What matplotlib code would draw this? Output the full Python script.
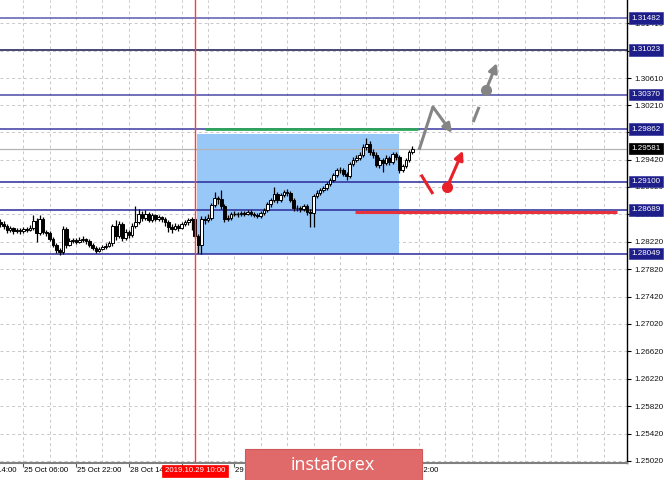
import matplotlib
matplotlib.use("Agg")
import matplotlib.pyplot as plt
import matplotlib.transforms as mtransforms
from matplotlib.patches import Rectangle, FancyArrowPatch

plt.rcParams['font.family'] = ['Liberation Sans', 'DejaVu Sans']

# ---------------- data ----------------
bar_index = list(range(-7, 119))   # H1 bars, 0 = 25 Oct 06:00

open_ = [1.2851, 1.2848, 1.2845, 1.2839, 1.2842, 1.2838, 1.2839, 1.2838, 1.2841, 1.2839,
         1.2842, 1.2852, 1.2835, 1.2855, 1.2836, 1.2835, 1.2826, 1.2817, 1.2810, 1.2807,
         1.2841, 1.2817, 1.2823, 1.2825, 1.2822, 1.2825, 1.2826, 1.2823, 1.2817, 1.2813,
         1.2809, 1.2811, 1.2814, 1.2816, 1.2820, 1.2845, 1.2830, 1.2848, 1.2828, 1.2836,
         1.2832, 1.2845, 1.2851, 1.2863, 1.2857, 1.2863, 1.2854, 1.2861, 1.2855, 1.2858,
         1.2855, 1.2851, 1.2844, 1.2841, 1.2845, 1.2842, 1.2848, 1.2851, 1.2854, 1.2855,
         1.2830, 1.2817, 1.2855, 1.2854, 1.2857, 1.2876, 1.2886, 1.2884, 1.2874, 1.2855,
         1.2857, 1.2863, 1.2863, 1.2863, 1.2864, 1.2863, 1.2865, 1.2863, 1.2861, 1.2860,
         1.2864, 1.2868, 1.2877, 1.2883, 1.2892, 1.2883, 1.2890, 1.2895, 1.2893, 1.2883,
         1.2871, 1.2871, 1.2870, 1.2874, 1.2865, 1.2864, 1.2889, 1.2893, 1.2898, 1.2901,
         1.2906, 1.2912, 1.2920, 1.2927, 1.2927, 1.2921, 1.2918, 1.2936, 1.2941, 1.2944,
         1.2949, 1.2960, 1.2965, 1.2953, 1.2949, 1.2934, 1.2941, 1.2937, 1.2944, 1.2938,
         1.2950, 1.2946, 1.2927, 1.2933, 1.2941, 1.2953]

high = [1.2855, 1.2852, 1.2848, 1.2845, 1.2844, 1.2842, 1.2842, 1.2844, 1.2844, 1.2846,
        1.2861, 1.2857, 1.2861, 1.2858, 1.2839, 1.2838, 1.2829, 1.2820, 1.2813, 1.2845,
        1.2844, 1.2828, 1.2828, 1.2828, 1.2829, 1.2830, 1.2828, 1.2826, 1.2820, 1.2816,
        1.2814, 1.2817, 1.2820, 1.2823, 1.2848, 1.2854, 1.2852, 1.2851, 1.2841, 1.2839,
        1.2849, 1.2874, 1.2870, 1.2867, 1.2868, 1.2865, 1.2864, 1.2863, 1.2861, 1.2860,
        1.2858, 1.2854, 1.2848, 1.2849, 1.2848, 1.2851, 1.2854, 1.2857, 1.2858, 1.2857,
        1.2833, 1.2860, 1.2860, 1.2863, 1.2879, 1.2895, 1.2889, 1.2898, 1.2877, 1.2861,
        1.2865, 1.2867, 1.2865, 1.2867, 1.2867, 1.2868, 1.2868, 1.2865, 1.2864, 1.2867,
        1.2871, 1.2880, 1.2886, 1.2902, 1.2895, 1.2893, 1.2898, 1.2899, 1.2896, 1.2886,
        1.2876, 1.2874, 1.2877, 1.2877, 1.2870, 1.2892, 1.2898, 1.2901, 1.2903, 1.2909,
        1.2915, 1.2922, 1.2930, 1.2931, 1.2930, 1.2924, 1.2938, 1.2946, 1.2949, 1.2953,
        1.2965, 1.2974, 1.2969, 1.2957, 1.2953, 1.2946, 1.2944, 1.2949, 1.2947, 1.2953,
        1.2953, 1.2949, 1.2936, 1.2944, 1.2956, 1.2962]

low = [1.2844, 1.2841, 1.2835, 1.2836, 1.2833, 1.2835, 1.2833, 1.2835, 1.2836, 1.2838,
       1.2839, 1.2822, 1.2832, 1.2833, 1.2830, 1.2823, 1.2814, 1.2806, 1.2803, 1.2804,
       1.2813, 1.2816, 1.2820, 1.2819, 1.2820, 1.2822, 1.2819, 1.2814, 1.2810, 1.2806,
       1.2807, 1.2810, 1.2811, 1.2814, 1.2816, 1.2825, 1.2828, 1.2823, 1.2825, 1.2828,
       1.2829, 1.2842, 1.2848, 1.2852, 1.2854, 1.2851, 1.2851, 1.2852, 1.2852, 1.2851,
       1.2845, 1.2836, 1.2835, 1.2839, 1.2838, 1.2841, 1.2845, 1.2846, 1.2839, 1.2828,
       1.2806, 1.2804, 1.2848, 1.2851, 1.2854, 1.2873, 1.2877, 1.2870, 1.2851, 1.2852,
       1.2854, 1.2860, 1.2858, 1.2860, 1.2860, 1.2861, 1.2860, 1.2858, 1.2857, 1.2857,
       1.2861, 1.2865, 1.2873, 1.2880, 1.2879, 1.2880, 1.2887, 1.2889, 1.2880, 1.2867,
       1.2867, 1.2865, 1.2867, 1.2861, 1.2844, 1.2844, 1.2886, 1.2890, 1.2895, 1.2898,
       1.2903, 1.2909, 1.2917, 1.2922, 1.2918, 1.2912, 1.2915, 1.2933, 1.2938, 1.2941,
       1.2946, 1.2956, 1.2949, 1.2944, 1.2931, 1.2930, 1.2924, 1.2934, 1.2934, 1.2936,
       1.2941, 1.2922, 1.2924, 1.2930, 1.2938, 1.2950]

close = [1.2848, 1.2845, 1.2839, 1.2842, 1.2838, 1.2839, 1.2838, 1.2841, 1.2839, 1.2842,
         1.2852, 1.2835, 1.2855, 1.2836, 1.2835, 1.2826, 1.2817, 1.2810, 1.2807, 1.2841,
         1.2817, 1.2823, 1.2825, 1.2822, 1.2825, 1.2826, 1.2823, 1.2817, 1.2813, 1.2809,
         1.2811, 1.2814, 1.2816, 1.2820, 1.2845, 1.2830, 1.2848, 1.2828, 1.2836, 1.2832,
         1.2845, 1.2851, 1.2863, 1.2857, 1.2863, 1.2854, 1.2861, 1.2855, 1.2858, 1.2855,
         1.2851, 1.2844, 1.2841, 1.2845, 1.2842, 1.2848, 1.2851, 1.2854, 1.2855, 1.2830,
         1.2817, 1.2855, 1.2854, 1.2857, 1.2876, 1.2886, 1.2884, 1.2874, 1.2855, 1.2857,
         1.2863, 1.2863, 1.2863, 1.2864, 1.2863, 1.2865, 1.2863, 1.2861, 1.2860, 1.2864,
         1.2868, 1.2877, 1.2883, 1.2892, 1.2883, 1.2890, 1.2895, 1.2893, 1.2883, 1.2871,
         1.2871, 1.2870, 1.2874, 1.2865, 1.2864, 1.2889, 1.2893, 1.2898, 1.2901, 1.2906,
         1.2912, 1.2920, 1.2927, 1.2927, 1.2921, 1.2918, 1.2936, 1.2941, 1.2944, 1.2949,
         1.2960, 1.2965, 1.2953, 1.2949, 1.2934, 1.2941, 1.2937, 1.2944, 1.2938, 1.2950,
         1.2946, 1.2927, 1.2933, 1.2941, 1.2953, 1.29581]

level_prices = [1.31482, 1.31023, 1.30370, 1.29862, 1.29100, 1.28689, 1.28049]
level_labels = ["1.31482", "1.31023", "1.30370", "1.29862", "1.29100", "1.28689", "1.28049"]
level_colors = ['#5a5ab0', '#151550', '#4a4aaa', '#3a3aa0', '#2a2a9a', '#2a2a9a', '#2a2a9a']
current_price = 1.29581
current_label = "1.29581"

y_ticks = [1.31410, 1.31010, 1.30610, 1.30210, 1.29820, 1.29420, 1.29020, 1.28620,
           1.28220, 1.27820, 1.27420, 1.27020, 1.26620, 1.26220, 1.25820, 1.25420, 1.25020]
y_tick_labels = ["1.31410", "1.31010", "1.30610", "1.30210", "1.29820", "1.29420", "1.29020",
                 "1.28620", "1.28220", "1.27820", "1.27420", "1.27020", "1.26620", "1.26220",
                 "1.25820", "1.25420", "1.25020"]

x_tick_pos = [-16, 0, 16, 32, 48, 64, 80, 96, 112]
x_tick_labels = ["24 Oct 14:00", "25 Oct 06:00", "25 Oct 22:00", "28 Oct 14:00",
                 "29 Oct 06:00", "29 Oct 22:00", "30 Oct 14:00", "31 Oct 06:00", "31 Oct 22:00"]
marker_bar = 52
marker_label = "2019.10.29 10:00"

# ---------------- figure ----------------
fig = plt.figure(figsize=(6.65, 4.8), dpi=100)
fig.patch.set_facecolor('white')
ax = fig.add_axes([0, 17 / 480, 627 / 665, 463 / 480])
ax.set_facecolor('white')

for s in ['top', 'left']:
    ax.spines[s].set_visible(False)
ax.spines['right'].set_color('black')
ax.spines['right'].set_linewidth(1.0)
ax.spines['bottom'].set_color('#808080')
ax.spines['bottom'].set_linewidth(1.5)

# grid
for yv in y_ticks:
    ax.axhline(yv, color='#c8c8c8', lw=0.7, dashes=(3, 3), zorder=0.5)
for kv in range(0, 184, 8):
    ax.axvline(kv, color='#c8c8c8', lw=0.7, dashes=(3, 3), zorder=0.5)

# ticks
ax.yaxis.tick_right()
ax.set_yticks(y_ticks)
ax.set_yticklabels(y_tick_labels)
ax.tick_params(axis='y', direction='out', length=3, width=0.8, pad=2,
               labelsize=5.8, colors='black', labelcolor='#111111')
ax.set_xticks(x_tick_pos)
ax.set_xticklabels([])
ax.tick_params(axis='x', direction='out', length=3, width=0.8, colors='#555555')

xtrans = mtransforms.blended_transform_factory(ax.transData, ax.transAxes)
for kv, lab in zip(x_tick_pos, x_tick_labels):
    ax.text(kv + 0.3, -0.0095, lab, transform=xtrans, ha='left', va='top',
            fontsize=5.6, color='black', clip_on=False, zorder=3)

# blue rectangle
ax.add_patch(Rectangle((52.6, 1.2804), 114.0 - 52.6, 1.2980 - 1.2804,
                       facecolor='#98c8f8', edgecolor='none', zorder=1))

# level lines
for p, c in zip(level_prices, level_colors):
    ax.axhline(p, color=c, lw=1.1, zorder=2)
ax.axhline(current_price, color='#b4b4b4', lw=0.9, zorder=1.5)

# green and red lines
ax.plot([55.1, 119.7], [1.2987, 1.2987], color='#2ca55a', lw=2.0, zorder=3,
        solid_capstyle='butt')
ax.plot([100.6, 180.0], [1.2866, 1.2866], color='#e8323c', lw=2.2, zorder=3,
        solid_capstyle='butt')

# candles
for k, o, h, l, c in zip(bar_index, open_, high, low, close):
    ax.vlines(k, l, h, color='black', lw=0.9, zorder=4)
    bot = min(o, c)
    hgt = abs(c - o)
    if hgt < 0.00005:
        ax.hlines(c, k - 0.4, k + 0.4, color='black', lw=1.0, zorder=5)
    else:
        fc = 'white' if c > o else 'black'
        ax.bar(k, hgt, bottom=bot, width=0.8, color=fc, edgecolor='black',
               linewidth=0.7, zorder=5)

# red vertical marker
ax.axvline(marker_bar, color='#ff3c3c', lw=1.0, zorder=6)

# arrows / annotations
gray = '#858585'
red = '#e8202a'
ax.plot([120.0, 124.2], [1.2956, 1.30188], color=gray, lw=2.2, zorder=7,
        solid_capstyle='butt')
ax.add_patch(FancyArrowPatch((124.2, 1.30188), (130.0, 1.2981), arrowstyle='-|>',
                             mutation_scale=13, lw=2.2, color=gray, shrinkA=0,
                             shrinkB=0, zorder=7))
ax.plot([136.4, 138.2], [1.29969, 1.3019], color=gray, lw=2.2, zorder=7,
        solid_capstyle='butt')
ax.plot([140.3], [1.30436], marker='o', ms=7, color=gray, zorder=7)
ax.add_patch(FancyArrowPatch((140.3, 1.30436), (143.6, 1.3083), arrowstyle='-|>',
                             mutation_scale=13, lw=2.2, color=gray, shrinkA=0,
                             shrinkB=0, zorder=7))
ax.plot([120.6, 124.2], [1.2920, 1.28918], color=red, lw=2.2, zorder=7,
        solid_capstyle='butt')
ax.plot([128.5], [1.2902], marker='o', ms=7, color=red, zorder=7)
ax.add_patch(FancyArrowPatch((128.5, 1.2902), (133.3, 1.2955), arrowstyle='-|>',
                             mutation_scale=13, lw=2.2, color=red, shrinkA=0,
                             shrinkB=0, zorder=7))

# right-side price boxes
ytrans = mtransforms.blended_transform_factory(ax.transAxes, ax.transData)
for p, lab in zip(level_prices, level_labels):
    ax.text(1.0075, p, lab, transform=ytrans, ha='left', va='center', fontsize=5.8,
            color='white', clip_on=False, zorder=10,
            bbox=dict(boxstyle='square,pad=0.3', fc='#1e1e8a', ec='#3a3aa0', lw=0.5))
ax.text(1.0075, current_price, current_label, transform=ytrans, ha='left', va='center',
        fontsize=5.8, color='white', clip_on=False, zorder=10,
        bbox=dict(boxstyle='square,pad=0.3', fc='black', ec='black', lw=0.5))

# red time label
ax.text(marker_bar, -0.0095, marker_label, transform=xtrans, ha='center', va='top',
        fontsize=5.6, color='white', clip_on=False, zorder=10,
        bbox=dict(boxstyle='square,pad=0.35', fc='#ff0000', ec='#ff0000', lw=0.5))

# view limits (set last so tick placement cannot widen them)
ax.set_xlim(-7.07, 183.05)
ax.set_ylim(1.249908, 1.317499)

# instaforex banner
fig.patches.append(Rectangle((245 / 665, 0), 177 / 665, 31 / 480, transform=fig.transFigure,
                             facecolor='#e06a6a', edgecolor='#d05858', lw=0.8, zorder=20))
fig.text(333 / 665, 15.5 / 480, 'instaforex', ha='center', va='center', fontsize=13,
         color='white', family=['Open Sans', 'DejaVu Sans'], zorder=21)

fig.savefig('out.png', dpi=100)
